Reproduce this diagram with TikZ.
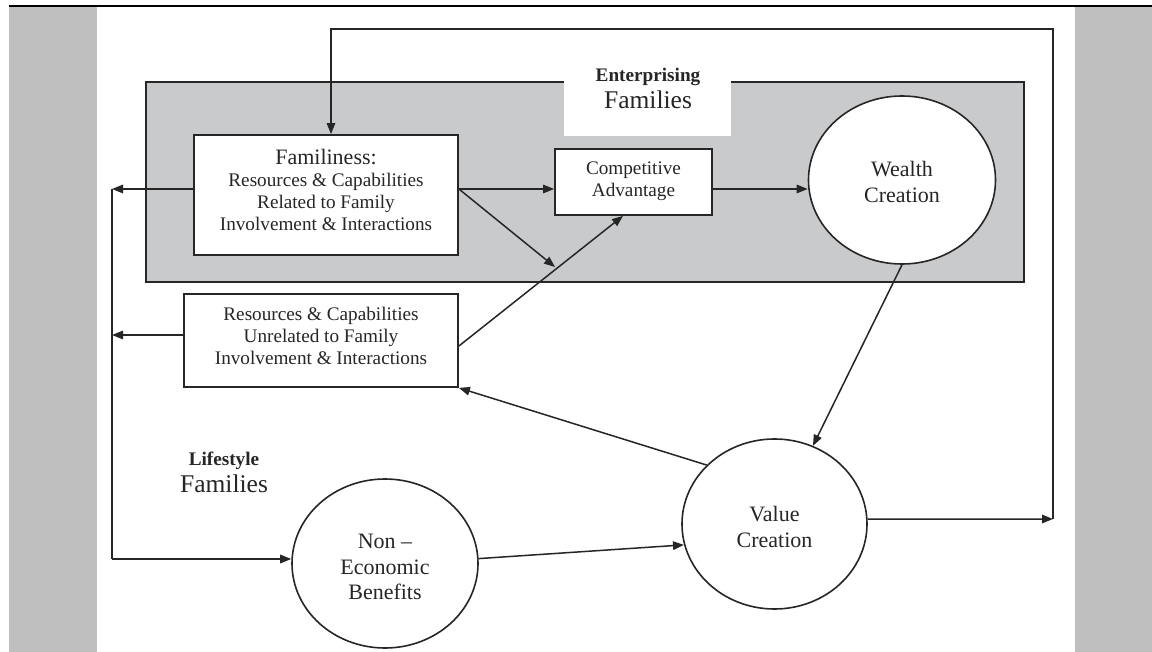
\documentclass[tikz,border=0pt]{standalone}
\usepackage{fontspec}
\setmainfont{Liberation Serif}
\usetikzlibrary{arrows.meta,shapes.geometric,calc}
\definecolor{ink}{HTML}{262626}
\definecolor{panel}{HTML}{BFBFBF}
\definecolor{boxgray}{HTML}{C9CACC}
\newcommand{\sxt}[2]{{#1\begin{tabular}{@{}c@{}}#2\end{tabular}}}
\newcommand{\fbody}{\fontsize{19.2}{22}\selectfont}
\newcommand{\fbig}{\fontsize{22}{26}\selectfont}
\newcommand{\fhuge}{\fontsize{25.5}{30}\selectfont}
\newcommand{\fbold}{\fontsize{19.2}{22}\selectfont\bfseries}
\tikzset{
  conn/.style={draw=ink, line width=1.5pt},
  arr/.style={conn, -{Triangle[length=11pt,width=8.5pt]}},
  boxn/.style={draw=ink, line width=1.8pt, fill=white, rectangle, inner sep=0pt},
  ell/.style={draw=ink, line width=1.6pt, fill=white, ellipse, inner sep=0pt},
  txt/.style={inner sep=0pt, anchor=north, text=ink},
  lbl/.style={inner sep=0pt, anchor=base, text=ink},
}
\begin{document}
\begin{tikzpicture}[x=1pt,y=-1pt]
\useasboundingbox (0,0) rectangle (1152,652);
% background and side panels
\fill[white] (0,0) rectangle (1152,652);
\fill[panel] (9,7) rectangle (97,652);
\fill[panel] (1075,7) rectangle (1152,652);
\fill[black] (9,5) rectangle (1152,7.2);

% enterprising families area
\path[draw=ink, fill=boxgray, line width=1.8pt] (146,82) rectangle (1024,282);
\fill[white] (564,80) rectangle (731,136);
\node[lbl] (entA) at (648,81.3) {\fbold Enterprising};
\node[lbl] (entB) at (648,109) {\fhuge Families};

% lifestyle label
\node[lbl] (lifA) at (224,465.3) {\fbold Lifestyle};
\node[lbl] (lifB) at (224,492.7) {\fhuge Families};

% shapes
\node[boxn, minimum width=264pt, minimum height=120pt] (fam) at (326,195) {};
\node[boxn, minimum width=274pt, minimum height=93pt] (unr) at (321,340.5) {};
\node[boxn, minimum width=157pt, minimum height=66pt] (ca) at (633.5,182) {};
\node[ell, minimum width=187pt, minimum height=168pt] (wealth) at (902,180) {};
\node[ell, minimum width=185pt, minimum height=170pt] (value) at (774.5,524) {};
\node[ell, minimum width=186pt, minimum height=169pt] (nonec) at (385,563.5) {};

% texts
\node[txt] (famt) at (326,148.9) {\sxt{\fbody}{{\fbig Familiness:}\\Resources \& Capabilities\\Related to Family\\Involvement \& Interactions}};
\node[txt] (unrt) at (321,304.6) {\sxt{\fbody}{Resources \& Capabilities\\Unrelated to Family\\Involvement \& Interactions}};
\node[txt] (cat) at (633.5,158.9) {\sxt{\fbody}{Competitive\\Advantage}};
\node[txt] (wealtht) at (902,158.5) {\sxt{\fbig}{Wealth\\Creation}};
\node[txt] (valuet) at (774.5,502.8) {\sxt{\fbig}{Value\\Creation}};
\node[txt] (nonect) at (385,531) {\sxt{\fontsize{22}{25.3}\selectfont}{Non --\\Economic\\Benefits}};

% coordinates for free ends
\coordinate (lv1) at (112,189);
\coordinate (lv2) at (112,335);
\coordinate (lvb) at (112,559);
\coordinate (mid) at (555,267);
\coordinate (rc) at (1053,519);
\coordinate (tl) at (331,29);

% connectors
\draw[arr] (fam.west |- lv1) -- (lv1);
\draw[arr] (unr.west |- lv2) -- (lv2);
\draw[conn] (lv1) -- (lvb);
\draw[arr] (lvb) -- (nonec.west |- lvb);
\draw[arr] (fam.east |- lv1) -- (ca.west |- lv1);
\draw[arr] (fam.east |- lv1) -- (mid);
\draw[arr] ($(unr.east)+(0,5.5)$) -- ($(ca.south)+(-10.5,0)$);
\draw[arr] (ca.east |- lv1) -- (wealth.west |- lv1);
\draw[arr] (wealth.south) -- (value);
\draw[arr] (value.139) -- (unr.south east);
\draw[arr] (nonec.3) -- (value.193);
\draw[arr] (value.3) -- (rc);
\draw[arr] (rc) |- (tl) -- (tl |- fam.north);
\end{tikzpicture}
\end{document}
